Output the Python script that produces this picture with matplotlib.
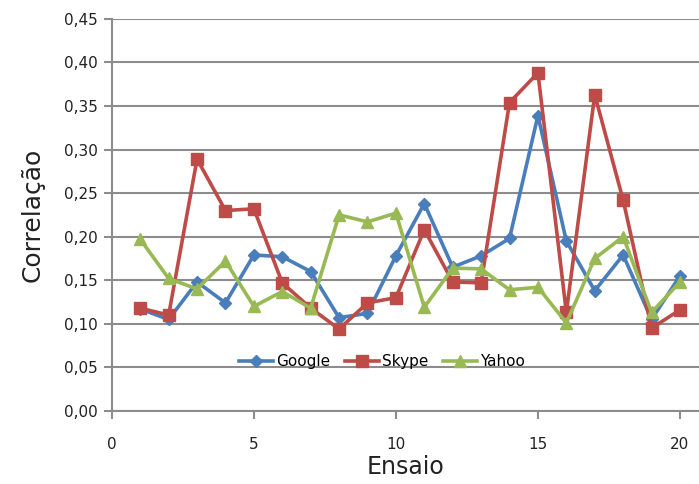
import numpy as np
import matplotlib.pyplot as plt

ensaio = np.arange(1, 21)
google = [0.117, 0.105, 0.148, 0.124, 0.179, 0.177, 0.160, 0.107, 0.112, 0.178,
          0.238, 0.165, 0.178, 0.198, 0.339, 0.195, 0.138, 0.179, 0.105, 0.155]
skype = [0.118, 0.110, 0.289, 0.230, 0.232, 0.147, 0.118, 0.094, 0.124, 0.130,
         0.208, 0.148, 0.147, 0.354, 0.388, 0.113, 0.363, 0.242, 0.095, 0.116]
yahoo = [0.197, 0.152, 0.140, 0.172, 0.120, 0.137, 0.118, 0.225, 0.217, 0.227,
         0.119, 0.164, 0.163, 0.139, 0.142, 0.101, 0.175, 0.200, 0.113, 0.148]

grid_col = '#8c8c8c'

fig = plt.figure(figsize=(6.99, 4.84), dpi=100)
ax = fig.add_axes([0.160, 0.151, 0.840, 0.810])

ax.plot(ensaio, google, color='#4a7ebb', lw=2.6, marker='D', ms=6, label='Google')
ax.plot(ensaio, skype, color='#be4b48', lw=2.6, marker='s', ms=8, label='Skype')
ax.plot(ensaio, yahoo, color='#98b954', lw=2.6, marker='^', ms=8, label='Yahoo')

ax.set_xlim(0, 20.67)
ax.set_ylim(0, 0.45)
ax.set_xticks(np.arange(0, 21, 5))
ax.set_yticks(np.arange(0, 0.451, 0.05))
ax.set_yticklabels([f'{v:.2f}'.replace('.', ',') for v in np.arange(0, 0.451, 0.05)])
ax.yaxis.grid(True, color=grid_col, lw=1.5)
ax.set_axisbelow(True)

for s in ['top', 'right']:
    ax.spines[s].set_visible(False)
for s in ['left', 'bottom']:
    ax.spines[s].set_color(grid_col)
    ax.spines[s].set_linewidth(1.5)
ax.tick_params(axis='both', colors=grid_col, width=1.5, length=6, labelsize=11,
               labelcolor='#222222', pad=4)
ax.tick_params(axis='x', pad=13)

ax.set_xlabel('Ensaio', fontsize=17, color='#222222', labelpad=2)
ax.set_ylabel('Correlação', fontsize=18, color='#222222', labelpad=14)

ax.legend(loc='center', bbox_to_anchor=(0.46, 0.125), ncol=3, frameon=False,
          fontsize=11, handlelength=2.2, handletextpad=0.2, columnspacing=1.0)

fig.savefig('out.png', dpi=100)
